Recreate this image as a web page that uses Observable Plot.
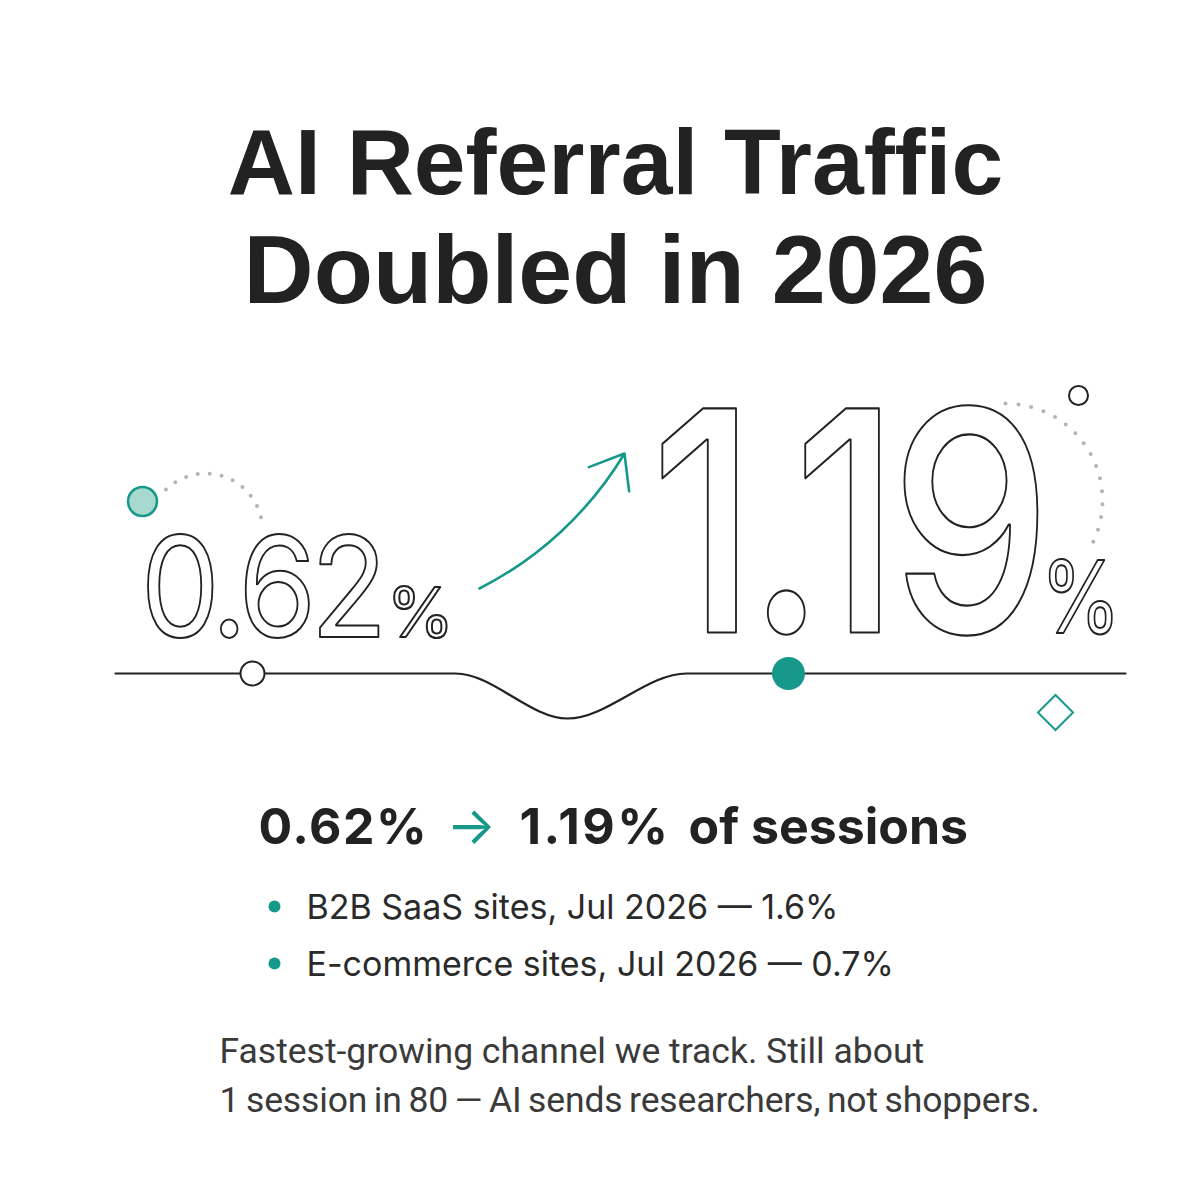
<!DOCTYPE html>
<html>
<head>
<meta charset="utf-8">
<script src="https://cdn.jsdelivr.net/npm/d3@7"></script>
<script src="https://cdn.jsdelivr.net/npm/@observablehq/plot@0.6"></script>
<style>
  html, body { margin: 0; padding: 0; background: #fff; }
  #chart svg { display: block; }
</style>
</head>
<body>
<div id="chart"></div>
<script>
// ---------- data ----------
const titleLines = ["AI Referral Traffic", "Doubled in 2026"];
const shares = [0.62, 1.19];                       // AI referral share of sessions, %
const shareLabels = shares.map(v => v.toFixed(2));
const segments = ["B2B SaaS sites, Jul 2026", "E-commerce sites, Jul 2026"];
const segmentShares = [1.6, 0.7];                  // %
const noteLines = [
  "Fastest-growing channel we track. Still about",
  "1 session in 80 \u2014 AI sends researchers, not shoppers."
];

// ---------- style ----------
const teal = "#16998b";
const tealLight = "#a8d9cf";
const ink = "#222222";
const dotGray = "#b4b4b4";

// ---------- layout (pixel space) ----------
const W = 1200, H = 1200;
const trackY = 673;
const wave = [
  {x: 115, y: trackY}, {x: 455, y: trackY}, {x: 567, y: 718},
  {x: 686, y: trackY}, {x: 1125, y: trackY}
];
function arc(cx, cy, r, a0, a1, n = 80) {
  return d3.range(n + 1).map(i => {
    const a = (a0 + (a1 - a0) * i / n) * Math.PI / 180;
    return {x: cx + r * Math.cos(a), y: cy + r * Math.sin(a)};
  });
}
const arcLeft = arc(205, 530, 57, -134, -7);
const arcRight = arc(1005, 500, 97, -90, 26);

const T = (s, x, y, o) => Plot.text([s], {x, y, text: d => d, lineAnchor: "bottom", ...o});
const outline = {fill: "#fff", stroke: ink, paintOrder: "normal", textAnchor: "start", fontFamily: "Inter"};

const chart = Plot.plot({
  width: W, height: H, margin: 0,
  x: {domain: [0, W], range: [0, W], axis: null},
  y: {domain: [0, H], range: [0, H], axis: null},
  style: {background: "#fff"},
  marks: [
    // title
    T(titleLines[0], 615, 193, {fontFamily: "Liberation Sans", fontWeight: 700, fontSize: 93, fill: ink, textAnchor: "middle"}),
    T(titleLines[1], 615, 302, {fontFamily: "Liberation Sans", fontWeight: 700, fontSize: 97, fill: ink, textAnchor: "middle"}),

    // decorations
    Plot.line(arcLeft, {x: "x", y: "y", stroke: dotGray, strokeWidth: 4, strokeDasharray: "0 12", strokeLinecap: "round"}),
    Plot.line(arcRight, {x: "x", y: "y", stroke: dotGray, strokeWidth: 4, strokeDasharray: "0 13", strokeLinecap: "round"}),
    Plot.dot([0], {x: 142, y: 501, r: 14.5, fill: tealLight, stroke: teal, strokeWidth: 2.5}),
    Plot.dot([0], {x: 1078, y: 395, r: 9.5, fill: "#fff", stroke: ink, strokeWidth: 2}),
    Plot.dot([0], {x: 1055, y: 712, r: 15.8, symbol: "diamond2", fill: "none", stroke: teal, strokeWidth: 2}),

    // big numbers
    T(shareLabels[0], 140, 636, {...outline, fontWeight: 400, fontSize: 140, strokeWidth: 2}),
    T("%", 386, 636, {...outline, fontWeight: 400, fontSize: 69, strokeWidth: 2}),
    T(shareLabels[1], 650, 632, {...outline, fontWeight: 500, fontSize: 308, strokeWidth: 2.2}),
    T("%", 1040, 632, {...outline, fontWeight: 400, fontSize: 100, strokeWidth: 2}),

    // growth arrow
    Plot.arrow([0], {x1: 479, y1: 588, x2: 624, y2: 453, bend: -16, stroke: teal, strokeWidth: 2.6, headLength: 22, headAngle: 76}),

    // track
    Plot.line(wave, {x: "x", y: "y", curve: "monotone-x", stroke: ink, strokeWidth: 2.2}),
    Plot.dot([0], {x: 252, y: trackY, r: 12, fill: "#fff", stroke: ink, strokeWidth: 2}),
    Plot.dot([0], {x: 788, y: trackY, r: 16.5, fill: teal, stroke: "none"}),

    // summary line
    T(shareLabels[0] + "%", 258, 843, {fontFamily: "Inter", fontWeight: 700, fontSize: 50, fill: ink, textAnchor: "start"}),
    T("\u2192", 446, 843, {fontFamily: "Inter", fontWeight: 400, fontSize: 52, fill: teal, textAnchor: "start"}),
    T(shareLabels[1] + "%", 519, 843, {fontFamily: "Inter", fontWeight: 700, fontSize: 50, fill: ink, textAnchor: "start"}),
    T("of sessions", 688, 843, {fontFamily: "Inter", fontWeight: 700, fontSize: 50, fill: ink, textAnchor: "start"}),

    // segment bullets
    Plot.dot(segments, {x: 274, y: (d, i) => 906 + i * 57, r: 6, fill: teal}),
    Plot.text(segments, {x: 306, y: (d, i) => 918 + i * 57, text: (d, i) => `${d} \u2014 ${segmentShares[i]}%`,
      lineAnchor: "bottom", textAnchor: "start", fontFamily: "Inter", fontSize: 34, fill: "#2a2a2a"}),

    // note
    Plot.text(noteLines, {x: 219, y: (d, i) => 1062 + i * 49, text: d => d, lineAnchor: "bottom", textAnchor: "start",
      fontFamily: "Roboto", fontSize: 35.5, fill: "#3a3a3a"})
  ]
});

// condense / tighten the big outlined numerals and fine-tune spacing
const texts = [...chart.querySelectorAll("text")];
const squeeze = (t, k) => t.setAttribute("transform", (t.getAttribute("transform") || "") + ` scale(${k},1)`);
texts.forEach(t => {
  const s = t.textContent;
  if (s === shareLabels[1]) {
    t.setAttribute("letter-spacing", "-11");
    squeeze(t, 0.83);
  } else if (s === shareLabels[0]) {
    t.setAttribute("letter-spacing", "-6.5");
    squeeze(t, 0.9);
  } else if (s === shareLabels[0] + "%") {
    t.setAttribute("letter-spacing", "1.5");
  } else if (s === shareLabels[1] + "%") {
    t.setAttribute("letter-spacing", "2.5");
  } else if (s === noteLines[1]) {
    t.setAttribute("word-spacing", "-2");
    t.setAttribute("letter-spacing", "-0.15");
  }
});
const pcts = texts.filter(t => t.textContent === "%");
if (pcts[1]) squeeze(pcts[1], 0.82);

document.getElementById("chart").appendChild(chart);
</script>
</body>
</html>
